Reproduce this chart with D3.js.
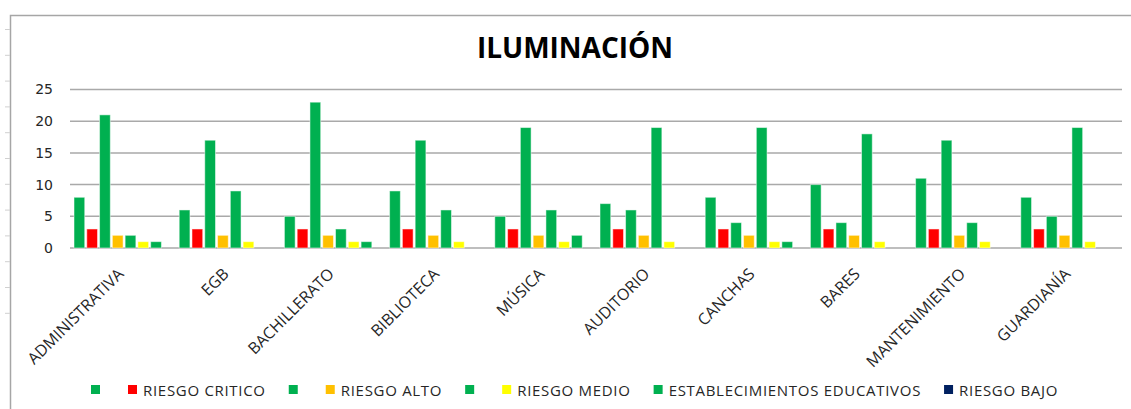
<!DOCTYPE html>
<html>
<head>
<meta charset="utf-8">
<script src="https://cdn.jsdelivr.net/npm/d3@7"></script>
<style>
  body { margin: 0; background: #fff; }
  svg { display: block; }
</style>
</head>
<body>
<div id="chart"></div>
<script>
// data
var categories = ["ADMINISTRATIVA", "EGB", "BACHILLERATO", "BIBLIOTECA", "MÚSICA",
  "AUDITORIO", "CANCHAS", "BARES", "MANTENIMIENTO", "GUARDIANÍA"];

var seriesNames = ["", "RIESGO CRITICO", "", "RIESGO ALTO", "", "RIESGO MEDIO",
  "ESTABLECIMIENTOS EDUCATIVOS", "RIESGO BAJO"];

var seriesColors = ["#00b050", "#ff0000", "#00b050", "#ffc000", "#00b050", "#ffff00",
  "#00b050", "#002060"];

// one array per series, in category order
var s1 = [8, 6, 5, 9, 5, 7, 8, 10, 11, 8];
var s2 = [3, 3, 3, 3, 3, 3, 3, 3, 3, 3];
var s3 = [21, 17, 23, 17, 19, 6, 4, 4, 17, 5];
var s4 = [2, 2, 2, 2, 2, 2, 2, 2, 2, 2];
var s5 = [2, 9, 3, 6, 6, 19, 19, 18, 4, 19];
var s6 = [1, 1, 1, 1, 1, 1, 1, 1, 1, 1];
var s7 = [1, 0, 1, 0, 2, 0, 1, 0, 0, 0];
var s8 = [0, 0, 0, 0, 0, 0, 0, 0, 0, 0];
var allSeries = [s1, s2, s3, s4, s5, s6, s7, s8];

var yTicks = [0, 5, 10, 15, 20, 25];

// stage
var svgWidth = 1131;
var svgHeight = 409;

var margin = { top: 89.5, right: 9, bottom: 161, left: 70 };
var width = svgWidth - margin.left - margin.right;
var height = svgHeight - margin.top - margin.bottom;

var svg = d3.select("#chart")
  .append("svg")
  .attr("width", svgWidth)
  .attr("height", svgHeight);

// outer frame (left + top edge of the chart box)
svg.append("path")
  .attr("d", "M10.5,409 V15.5 H1131")
  .attr("fill", "none")
  .attr("stroke", "#a6a6a6")
  .attr("stroke-width", 1.5);

// little sheet ticks left of the frame
svg.append("g")
  .selectAll("line")
  .data(d3.range(12))
  .enter()
  .append("line")
  .attr("x1", 5)
  .attr("x2", 10)
  .attr("y1", d => 29.5 + d * 25.8)
  .attr("y2", d => 29.5 + d * 25.8)
  .attr("stroke", "#d0d0d0");

var chartGroup = svg.append("g")
  .attr("transform", `translate(${margin.left}, ${margin.top})`);

// scales
var x0 = d3.scaleBand()
  .domain(categories)
  .range([0, width]);

var x1 = d3.scaleBand()
  .domain(d3.range(allSeries.length))
  .range([4, x0.bandwidth() - 1])
  .paddingInner(0.16);

var yScale = d3.scaleLinear()
  .domain([0, 25])
  .range([height, 0]);

// gridlines
chartGroup.append("g")
  .selectAll("line")
  .data(yTicks)
  .enter()
  .append("line")
  .attr("x1", 0)
  .attr("x2", width)
  .attr("y1", d => yScale(d))
  .attr("y2", d => yScale(d))
  .attr("stroke", "#a9a9a9")
  .attr("stroke-width", 1.5);

// y axis labels
var leftAxis = d3.axisLeft(yScale)
  .tickValues(yTicks)
  .tickSize(0)
  .tickPadding(17);

chartGroup.append("g")
  .call(leftAxis)
  .call(g => g.select(".domain").remove())
  .selectAll("text")
  .attr("font-family", "DejaVu Sans")
  .attr("font-size", 14)
  .attr("fill", "#262626");

// bars
var groups = chartGroup.selectAll(".cat")
  .data(categories)
  .enter()
  .append("g")
  .attr("class", "cat")
  .attr("transform", d => `translate(${x0(d)}, 0)`);

groups.selectAll("rect")
  .data((d, i) => allSeries.map((s, j) => ({ series: j, value: s[i] })))
  .enter()
  .filter(d => d.value > 0)
  .append("rect")
  .attr("x", d => x1(d.series))
  .attr("width", x1.bandwidth())
  .attr("y", d => yScale(d.value))
  .attr("height", d => yScale(0) - yScale(d.value))
  .attr("fill", d => seriesColors[d.series])
  .attr("stroke", "#ffffff")
  .attr("stroke-opacity", 0.5)
  .attr("stroke-width", 1);

// x labels, rotated
chartGroup.append("g")
  .selectAll("text")
  .data(categories)
  .enter()
  .append("text")
  .attr("transform", d => `translate(${x0(d) + x0.bandwidth() / 2 + 2}, ${height + 27}) rotate(-45)`)
  .attr("text-anchor", "end")
  .attr("font-family", "Open Sans")
  .attr("font-size", 16)
  .attr("fill", "#262626")
  .text(d => d);

// title
svg.append("text")
  .attr("x", 575)
  .attr("y", 58)
  .attr("text-anchor", "middle")
  .attr("font-family", "Open Sans")
  .attr("font-weight", "bold")
  .attr("font-size", 28)
  .attr("fill", "#000")
  .text("ILUMINACIÓN");

// legend
var legend = svg.append("g")
  .attr("transform", "translate(0, 390)");

var lx = 91;
seriesNames.forEach(function(name, i) {
  legend.append("rect")
    .attr("x", lx)
    .attr("y", -5)
    .attr("width", 9)
    .attr("height", 9)
    .attr("fill", seriesColors[i]);
  var t = legend.append("text")
    .attr("x", lx + 15)
    .attr("y", 5.5)
    .attr("font-family", "Open Sans")
    .attr("font-size", 15)
    .attr("letter-spacing", 0.7)
    .attr("fill", "#262626")
    .text(name);
  if (name) {
    lx += 15 + t.node().getComputedTextLength() + 23;
  } else {
    lx += 37;
  }
});
</script>
</body>
</html>
